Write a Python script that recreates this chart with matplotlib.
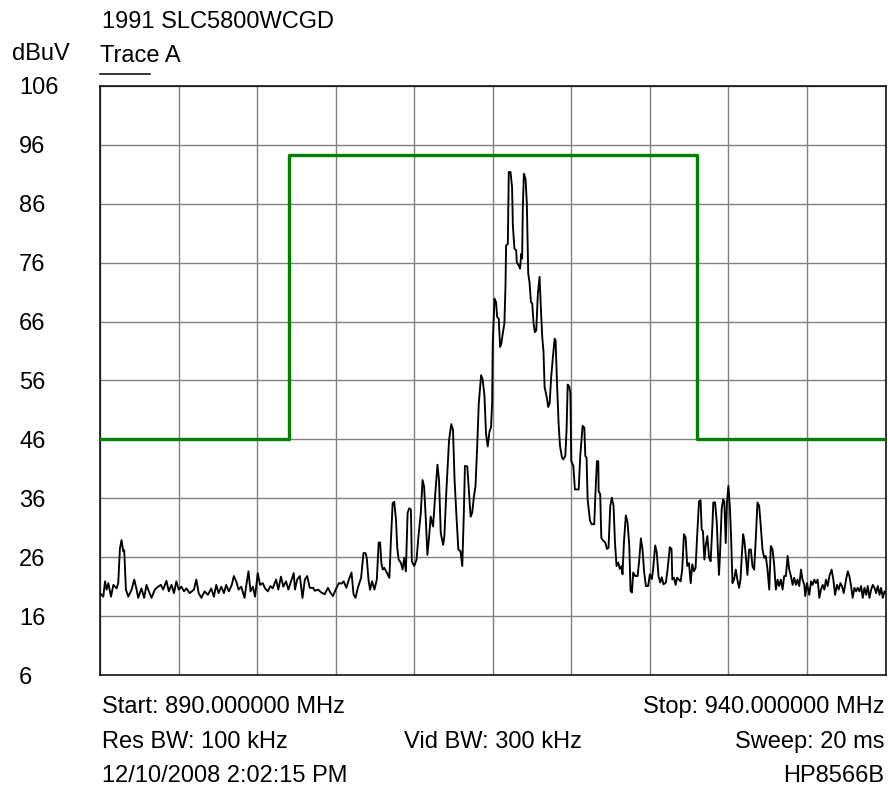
import matplotlib
matplotlib.use("Agg")
import matplotlib.pyplot as plt
from matplotlib.lines import Line2D

plt.rcParams['font.family'] = ['Liberation Sans', 'DejaVu Sans']

freq_mhz = [
    890.00, 890.21, 890.32, 890.42, 890.53, 890.70, 890.85, 891.06, 891.16, 891.27,
    891.37, 891.48, 891.54, 891.65, 891.80, 892.01, 892.18, 892.33, 892.43, 892.64,
    892.81, 892.96, 893.11, 893.28, 893.49, 893.70, 893.87, 894.02, 894.23, 894.38,
    894.55, 894.71, 894.86, 895.01, 895.18, 895.35, 895.50, 895.71, 895.98, 896.13,
    896.28, 896.45, 896.66, 896.87, 897.08, 897.25, 897.40, 897.55, 897.72, 897.89,
    898.03, 898.20, 898.39, 898.52, 898.67, 898.82, 898.99, 899.20, 899.30, 899.45,
    899.58, 899.73, 899.87, 900.04, 900.19, 900.36, 900.51, 900.68, 900.85, 900.99,
    901.21, 901.35, 901.52, 901.67, 901.84, 901.99, 902.16, 902.33,
    902.41, 902.55, 902.72, 902.89, 903.04, 903.19, 903.35, 903.57, 903.67, 903.88,
    904.09, 904.30, 904.51, 904.66, 904.83, 905.00, 905.21, 905.36, 905.51, 905.68,
    905.84, 906.01, 906.14, 906.27, 906.41, 906.62, 906.77, 906.90, 906.98, 907.09,
    907.19, 907.32, 907.47, 907.62, 907.74, 907.83, 907.91, 908.00, 908.10, 908.25,
    908.42, 908.52, 908.63, 908.73, 908.84, 908.92, 909.01, 909.16, 909.26, 909.37,
    909.47, 909.58, 909.68, 909.79, 909.85, 910.00, 910.15, 910.27, 910.42, 910.53,
    910.63, 910.74, 910.84, 910.95, 911.05, 911.20, 911.33, 911.48, 911.58, 911.69,
    911.84, 911.92, 912.05, 912.22, 912.36, 912.47, 912.57, 912.68, 912.81, 912.95,
    913.06, 913.16, 913.23, 913.38, 913.48, 913.59, 913.69, 913.80, 913.90, 914.01,
    914.11,
    914.26, 914.36, 914.47, 914.57, 914.68, 914.79, 914.89, 914.96, 915.00, 915.11,
    915.21, 915.28, 915.38, 915.47, 915.55, 915.64, 915.74, 915.81, 915.85, 915.96,
    916.02, 916.13, 916.23, 916.28, 916.38, 916.49, 916.53, 916.66, 916.74, 916.81,
    916.87, 916.91, 916.98, 917.09, 917.17, 917.26, 917.34, 917.43, 917.51, 917.60,
    917.68, 917.77, 917.87, 917.98, 918.06, 918.15, 918.23, 918.30, 918.45, 918.53,
    918.62, 918.72, 918.83, 918.94, 919.00, 919.09,
    919.19, 919.28, 919.41, 919.49, 919.62, 919.70, 919.77, 919.87, 919.94, 920.00,
    920.13, 920.23, 920.47, 920.57, 920.72, 920.83, 920.89, 920.97, 921.04, 921.19,
    921.29, 921.46, 921.53, 921.63, 921.72, 921.74, 921.84, 921.91, 922.03, 922.16,
    922.27, 922.37, 922.48, 922.58, 922.69, 922.78, 922.88, 922.99, 923.09, 923.20,
    923.26, 923.35, 923.47, 923.58, 923.69, 923.77, 923.86, 923.94, 924.07, 924.22,
    924.32, 924.43, 924.53, 924.64, 924.75, 924.89, 925.00, 925.13, 925.21, 925.34,
    925.44, 925.55, 925.66, 925.76, 925.87, 926.02, 926.12, 926.27, 926.38,
    926.43, 926.54, 926.64, 926.74, 926.85, 926.96, 927.06, 927.17, 927.28, 927.38,
    927.49, 927.60, 927.70, 927.81, 927.91, 928.02, 928.13, 928.23, 928.30, 928.38,
    928.47, 928.55, 928.66, 928.77, 928.87, 928.98, 929.04, 929.15, 929.26, 929.34,
    929.40, 929.47, 929.57, 929.66, 929.74, 929.83, 929.91, 930.00, 930.09, 930.17,
    930.26, 930.36, 930.47, 930.57, 930.68, 930.77, 930.85, 930.94, 931.02, 931.11,
    931.21, 931.32, 931.43, 931.53, 931.64, 931.74, 931.85, 931.96, 932.06, 932.17,
    932.28, 932.38, 932.49, 932.60, 932.70, 932.81, 932.91, 933.02, 933.13, 933.23,
    933.34, 933.45, 933.55, 933.66, 933.77, 933.87, 933.98, 934.09, 934.19, 934.30,
    934.40, 934.51, 934.62, 934.72, 934.83, 934.89, 935.00, 935.15, 935.26, 935.36,
    935.47, 935.57, 935.68, 935.79, 935.89, 936.00, 936.11, 936.21, 936.32, 936.43,
    936.57, 936.68, 936.79, 936.91, 937.02, 937.13, 937.23, 937.34, 937.49, 937.60,
    937.70, 937.81, 937.91, 938.02, 938.13, 938.23, 938.34, 938.45, 938.55, 938.66,
    938.77, 938.87, 938.98, 939.09, 939.19, 939.30, 939.40, 939.51, 939.62, 939.72,
    939.83, 939.94, 940.00,
]
level_dbuv = [
    19.9, 19.3, 21.9, 20.5, 21.6, 19.3, 21.3, 20.7, 21.6, 27.5,
    28.9, 27.0, 27.2, 20.5, 19.3, 20.5, 22.2, 20.5, 19.1, 20.7,
    19.1, 21.3, 20.2, 19.1, 20.5, 21.0, 21.3, 20.5, 22.0, 20.2,
    21.3, 19.9, 21.9, 20.5, 21.0, 20.2, 20.7, 19.9, 20.5, 22.2,
    19.9, 19.1, 20.2, 19.6, 20.7, 19.3, 21.3, 19.9, 21.0, 19.9,
    21.3, 20.2, 21.3, 22.8, 21.9, 20.5, 21.0, 19.1, 21.0, 23.6,
    20.2, 21.0, 19.3, 23.3, 21.3, 21.6, 20.7, 20.2, 21.1, 20.7,
    22.2, 20.5, 22.7, 21.0, 21.9, 20.5, 21.9, 23.3,
    20.5, 22.2, 22.8, 19.1, 22.2, 22.8, 20.8, 20.8, 20.3, 20.5,
    20.0, 19.7, 20.8, 20.0, 19.4, 20.5, 21.6, 21.5, 21.9, 20.8,
    22.2, 23.4, 19.7, 19.1, 20.8, 22.5, 26.7, 26.7, 25.9, 22.2,
    20.5, 21.9, 20.5, 22.2, 28.5, 28.5, 25.0, 23.9, 24.2, 23.4,
    22.5, 29.0, 35.2, 35.4, 32.4, 27.6, 25.6, 25.0, 23.9, 25.9,
    23.6, 33.5, 34.3, 34.1, 25.3, 24.5, 25.6, 29.5, 33.5, 39.1,
    38.0, 32.4, 26.4, 29.5, 32.9, 31.2, 36.3, 41.7, 39.1, 30.1,
    28.1, 29.5, 37.4, 45.9, 48.6, 47.6, 39.1, 33.5, 27.3, 27.0,
    24.5, 33.5, 41.5, 41.4, 37.4, 32.9, 33.5, 36.3, 38.0, 44.8,
    52.1,
    56.9, 56.1, 53.5, 47.0, 44.8, 47.3, 48.1, 52.1, 62.3, 69.9,
    69.3, 66.8, 66.5, 61.7, 62.3, 64.0, 65.7, 71.9, 78.9, 79.2,
    91.4, 91.4, 88.8, 82.3, 78.4, 78.1, 76.1, 75.5, 75.0, 77.5,
    76.7, 84.9, 91.1, 90.2, 86.0, 74.1, 72.7, 69.3, 69.1, 65.7,
    64.2, 64.5, 70.7, 73.6, 68.5, 63.4, 60.9, 54.9, 53.0, 51.5,
    52.1, 56.6, 60.0, 63.1, 62.8, 55.5,
    48.8, 44.9, 42.9, 42.6, 43.2, 47.7, 55.3, 55.0, 53.9, 42.3,
    41.5, 37.5, 37.5, 43.2, 48.3, 48.0, 43.2, 42.9, 35.8, 32.2,
    31.6, 31.6, 36.4, 42.3, 42.3, 37.2, 36.7, 29.3, 28.8, 28.5,
    27.4, 27.6, 34.7, 36.1, 34.7, 28.5, 24.5, 25.1, 24.0, 24.5,
    23.1, 28.5, 33.1, 31.9, 28.0, 20.3, 20.0, 23.4, 22.8, 22.8,
    25.4, 29.2, 27.4, 23.4, 21.1, 21.1, 23.1, 22.3, 24.0, 28.0,
    26.8, 22.8, 21.7, 22.6, 21.4, 21.7, 23.7, 27.7, 27.4,
    22.2, 22.5, 21.3, 22.5, 22.2, 21.9, 23.9, 29.9, 29.3, 24.5,
    25.0, 21.6, 24.8, 23.6, 24.2, 30.1, 35.5, 35.7, 30.7, 30.4,
    25.6, 27.9, 29.6, 25.9, 25.3, 31.3, 35.3, 35.3, 31.9, 26.5,
    23.0, 26.7, 34.1, 35.8, 35.5, 28.4, 35.3, 38.1, 34.7, 29.6,
    21.6, 22.2, 23.9, 22.2, 20.8, 22.2, 26.2, 29.9, 28.7, 26.2,
    23.0, 27.3, 27.3, 24.5, 23.9, 29.0, 35.3, 34.7, 31.3, 27.3,
    25.9, 26.2, 23.9, 20.5, 27.9, 27.3, 24.8, 20.5, 22.2, 21.1,
    22.2, 20.5, 22.8, 22.8, 26.2, 23.9, 22.8, 21.3, 22.5, 21.3,
    22.2, 21.1, 23.9, 22.2, 21.3, 19.4, 21.6, 19.6, 21.9, 21.3,
    22.2, 21.6, 22.2, 19.1, 20.5, 21.3, 20.5, 22.2, 21.1, 22.8,
    23.9, 22.2, 19.6, 21.3, 20.5, 21.6, 21.1, 19.9, 22.2, 23.6,
    22.8, 21.1, 19.1, 20.8, 20.2, 20.8, 20.2, 21.1, 19.1, 20.8,
    19.6, 21.1, 19.1, 20.5, 21.3, 20.8, 19.9, 21.1, 19.6, 20.8,
    19.1, 20.2, 20.0,
]

# limit line (green)
mask_freq = [890, 902, 902, 928, 928, 940]
mask_level = [46, 46, 94.3, 94.3, 46, 46]

yticks = [6, 16, 26, 36, 46, 56, 66, 76, 86, 96, 106]
xgrid = [890, 895, 900, 905, 910, 915, 920, 925, 930, 935, 940]

W, H = 888, 788
fig = plt.figure(figsize=(W / 100, H / 100), dpi=100)
ax = fig.add_axes([100 / W, 1 - 675 / H, 785.5 / W, 589 / H])

fs = 17

ax.set_xlim(890, 940)
ax.set_ylim(6, 106)
ax.set_xticks(xgrid)
ax.set_xticklabels([])
ax.set_yticks(yticks)
ax.set_yticklabels([str(v) for v in yticks], fontsize=fs, ha='left')
ax.tick_params(axis='both', length=0)
ax.tick_params(axis='y', pad=58.3)
ax.grid(True, color='#808080', linewidth=1.0)
ax.set_axisbelow(True)
for s in ax.spines.values():
    s.set_linewidth(1.1)
    s.set_color('black')

ax.plot(mask_freq, mask_level, color='#008000', linewidth=2.4, zorder=3)
ax.plot(freq_mhz, level_dbuv, color='black', linewidth=1.35, zorder=4)

def ftext(x, y, s, **kw):
    fig.text(x / W, 1 - y / H, s, fontsize=fs, va='baseline', **kw)

ftext(102, 28, '1991 SLC5800WCGD')
ftext(12, 60, 'dBuV')
ftext(100, 62, 'Trace A')
fig.add_artist(Line2D([100 / W, 150 / W], [1 - 74 / H, 1 - 74 / H], color='black', linewidth=1.1))

ftext(102, 713, 'Start: 890.000000 MHz')
ftext(884, 713, 'Stop: 940.000000 MHz', ha='right')
ftext(102, 748, 'Res BW: 100 kHz')
ftext(493, 748, 'Vid BW: 300 kHz', ha='center')
ftext(884, 748, 'Sweep: 20 ms', ha='right')
ftext(102, 782, '12/10/2008 2:02:15 PM')
ftext(884, 782, 'HP8566B', ha='right')

fig.savefig('out.png', dpi=100)
